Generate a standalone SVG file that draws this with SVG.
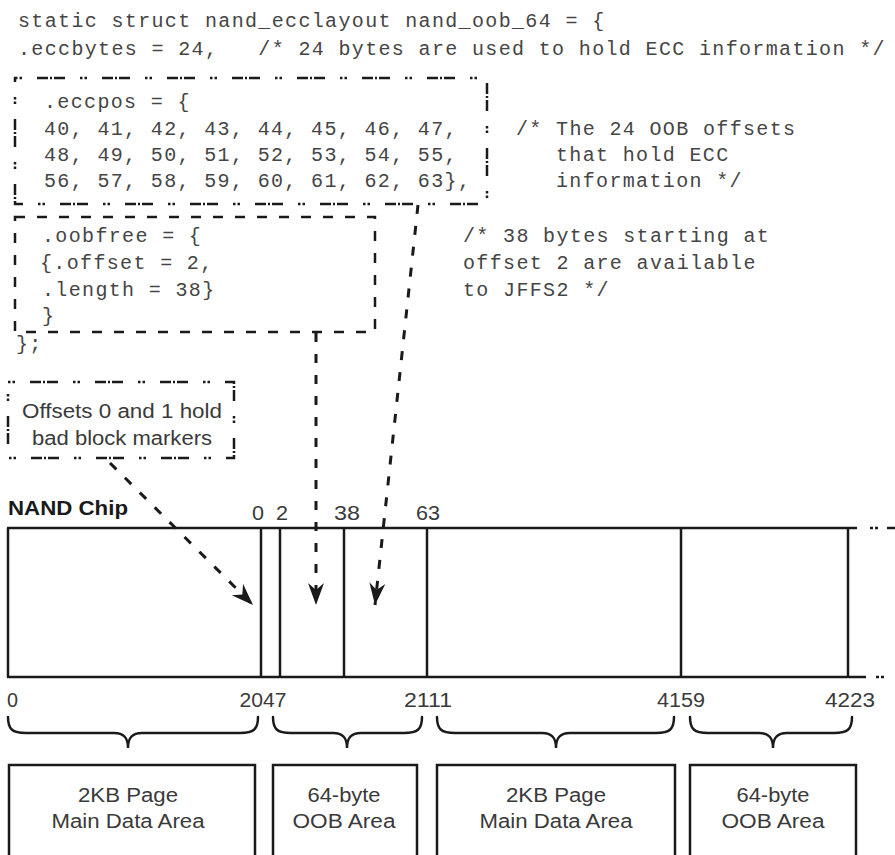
<svg xmlns="http://www.w3.org/2000/svg" width="895" height="855" viewBox="0 0 895 855">
<style>
.code{font-family:"Liberation Mono","DejaVu Sans Mono",monospace;font-size:20px;letter-spacing:1.35px;fill:#454545;white-space:pre}
.sans{font-family:"Liberation Sans",Arial,sans-serif;font-size:20px;fill:#3a3a3a}
.bold{font-family:"Liberation Sans",Arial,sans-serif;font-size:20px;font-weight:bold;fill:#1a1a1a}
.num{font-family:"Liberation Sans",Arial,sans-serif;font-size:20px;fill:#3a3a3a}
.dashdot{fill:none;stroke:#1a1a1a;stroke-width:2.5;stroke-dasharray:2.5 2 2.5 15 11 2 2 2 11 15}
.dashed{fill:none;stroke:#1a1a1a;stroke-width:2.5;stroke-dasharray:10 12}
.line{fill:none;stroke:#1a1a1a;stroke-width:2.5}
.brace{fill:none;stroke:#1a1a1a;stroke-width:2.5;stroke-linecap:round}
.conn{fill:none;stroke:#1a1a1a;stroke-width:3;stroke-dasharray:9 12}
</style>
<defs>
<marker id="arrow" markerUnits="userSpaceOnUse" markerWidth="26" markerHeight="20" viewBox="-24 -10 26 20" refX="0" refY="0" orient="auto">
<path d="M0,0 L-22,-8 L-15,0 L-22,8 Z" fill="#1a1a1a"/>
</marker>
</defs>

<g id="header">
<text class="code" x="18" y="27" xml:space="preserve">static struct nand_ecclayout nand_oob_64 = {</text>
<text class="code" x="18" y="55" xml:space="preserve">.eccbytes = 24,   /* 24 bytes are used to hold ECC information */</text>
</g>

<g id="eccpos-box">
<rect class="dashdot" x="15" y="78" width="472" height="126"/>
<text class="code" x="44" y="108">.eccpos = {</text>
<text class="code" x="44" y="135">40, 41, 42, 43, 44, 45, 46, 47,</text>
<text class="code" x="44" y="161">48, 49, 50, 51, 52, 53, 54, 55,</text>
<text class="code" x="44" y="187">56, 57, 58, 59, 60, 61, 62, 63},</text>
</g>

<g id="eccpos-comment">
<text class="code" x="516" y="135">/* The 24 OOB offsets</text>
<text class="code" x="556" y="161">that hold ECC</text>
<text class="code" x="556" y="187">information */</text>
</g>

<g id="oobfree-box">
<rect class="dashed" x="15" y="217" width="360" height="115"/>
<text class="code" x="42" y="242">.oobfree = {</text>
<text class="code" x="40" y="269">{.offset = 2,</text>
<text class="code" x="42" y="296">.length = 38}</text>
<text class="code" x="42" y="322">}</text>
</g>

<g id="struct-end">
<text class="code" x="16" y="350">};</text>
</g>

<g id="oobfree-comment">
<text class="code" x="463" y="242">/* 38 bytes starting at</text>
<text class="code" x="463" y="269">offset 2 are available</text>
<text class="code" x="463" y="296">to JFFS2 */</text>
</g>

<g id="offsets-note">
<rect class="dashdot" x="8" y="382" width="226" height="76"/>
<text class="sans" x="122" y="418" text-anchor="middle" textLength="200" lengthAdjust="spacingAndGlyphs">Offsets 0 and 1 hold</text>
<text class="sans" x="122" y="445" text-anchor="middle" textLength="180" lengthAdjust="spacingAndGlyphs">bad block markers</text>
</g>

<g id="nand-chip">
<text class="bold" x="8" y="515" textLength="120" lengthAdjust="spacingAndGlyphs">NAND Chip</text>
<path class="line" d="M7,528 H857 M7,677 H866 M8,528 V677 M261,528 V677 M280,528 V677 M344,528 V677 M427,528 V677 M681,528 V677 M848,528 V677"/>
<path class="line" d="M870,528 h3 M875,528 h3 M887,528 h8 M876,677 h3 M881,677 h3"/>
</g>

<g id="offset-labels">
<text class="num" x="258" y="520" text-anchor="middle" textLength="12" lengthAdjust="spacingAndGlyphs">0</text>
<text class="num" x="282" y="520" text-anchor="middle" textLength="12" lengthAdjust="spacingAndGlyphs">2</text>
<text class="num" x="347" y="520" text-anchor="middle" textLength="26" lengthAdjust="spacingAndGlyphs">38</text>
<text class="num" x="428" y="520" text-anchor="middle" textLength="24" lengthAdjust="spacingAndGlyphs">63</text>
</g>

<g id="byte-labels">
<text class="num" x="7" y="707" textLength="11" lengthAdjust="spacingAndGlyphs">0</text>
<text class="num" x="263" y="707" text-anchor="middle" textLength="47" lengthAdjust="spacingAndGlyphs">2047</text>
<text class="num" x="428" y="707" text-anchor="middle" textLength="48" lengthAdjust="spacingAndGlyphs">2111</text>
<text class="num" x="681" y="707" text-anchor="middle" textLength="48" lengthAdjust="spacingAndGlyphs">4159</text>
<text class="num" x="850" y="707" text-anchor="middle" textLength="50" lengthAdjust="spacingAndGlyphs">4223</text>
</g>

<g id="braces">
<path class="brace" d="M8,717 C8,729 12,733 26,733 L114,733 C124,733 128,738 128,748 C128,738 132,733 142,733 L240,733 C254,733 258,729 258,717"/>
<path class="brace" d="M273,717 C273,729 277,733 291,733 L333,733 C343,733 347,738 347,748 C347,738 351,733 361,733 L404,733 C418,733 422,729 422,717"/>
<path class="brace" d="M437,717 C437,729 441,733 455,733 L542,733 C552,733 556,738 556,748 C556,738 560,733 570,733 L656,733 C670,733 674,729 674,717"/>
<path class="brace" d="M690,717 C690,729 694,733 708,733 L759,733 C769,733 773,738 773,748 C773,738 777,733 787,733 L834,733 C848,733 852,729 852,717"/>
</g>

<g id="area-main-1">
<rect class="line" x="9" y="765" width="246" height="100"/>
<text class="sans" x="128" y="802" text-anchor="middle" textLength="100" lengthAdjust="spacingAndGlyphs">2KB Page</text>
<text class="sans" x="128" y="828" text-anchor="middle" textLength="153" lengthAdjust="spacingAndGlyphs">Main Data Area</text>
</g>
<g id="area-oob-1">
<rect class="line" x="273" y="765" width="144" height="100"/>
<text class="sans" x="344" y="802" text-anchor="middle" textLength="73" lengthAdjust="spacingAndGlyphs">64-byte</text>
<text class="sans" x="344" y="828" text-anchor="middle" textLength="103" lengthAdjust="spacingAndGlyphs">OOB Area</text>
</g>
<g id="area-main-2">
<rect class="line" x="437" y="765" width="238" height="100"/>
<text class="sans" x="556" y="802" text-anchor="middle" textLength="100" lengthAdjust="spacingAndGlyphs">2KB Page</text>
<text class="sans" x="556" y="828" text-anchor="middle" textLength="153" lengthAdjust="spacingAndGlyphs">Main Data Area</text>
</g>
<g id="area-oob-2">
<rect class="line" x="690" y="765" width="166" height="100"/>
<text class="sans" x="773" y="802" text-anchor="middle" textLength="73" lengthAdjust="spacingAndGlyphs">64-byte</text>
<text class="sans" x="773" y="828" text-anchor="middle" textLength="103" lengthAdjust="spacingAndGlyphs">OOB Area</text>
</g>

<g id="connectors">
<path class="conn" d="M110,463 L253,605" marker-end="url(#arrow)"/>
<path class="conn" d="M316,333 L316,605" marker-end="url(#arrow)"/>
<path class="conn" d="M418,205 L375,605" marker-end="url(#arrow)"/>
</g>
</svg>
